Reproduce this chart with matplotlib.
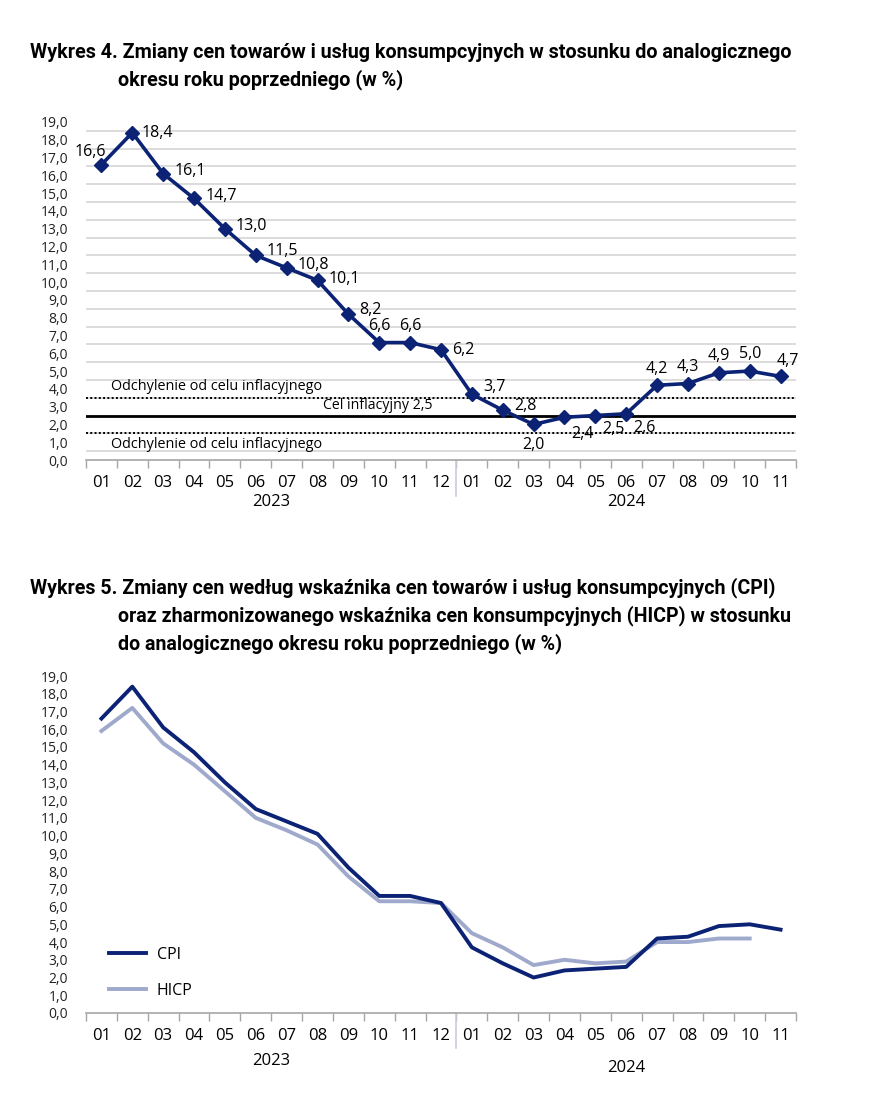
import matplotlib
matplotlib.use("Agg")
from matplotlib import pyplot as plt

months = ["01", "02", "03", "04", "05", "06", "07", "08", "09", "10", "11", "12",
          "01", "02", "03", "04", "05", "06", "07", "08", "09", "10", "11"]
years = ["2023", "2024"]
cpi = [16.6, 18.4, 16.1, 14.7, 13.0, 11.5, 10.8, 10.1, 8.2, 6.6, 6.6, 6.2,
       3.7, 2.8, 2.0, 2.4, 2.5, 2.6, 4.2, 4.3, 4.9, 5.0, 4.7]
hicp = [15.9, 17.2, 15.2, 14.0, 12.5, 11.0, 10.3, 9.5, 7.7, 6.3, 6.3, 6.2,
        4.5, 3.7, 2.7, 3.0, 2.8, 2.9, 4.0, 4.0, 4.2, 4.2]
target = 2.5
band = [1.5, 3.5]

# where each label sits relative to its point: (dx, dy) in points + alignment
label_pos = [(3, 9, "right"), (7, 0, "left"), (8, 2, "left"), (8, 2, "left"),
             (8, 2, "left"), (8, 3, "left"), (8, 2, "left"), (8, 1, "left"),
             (8, 3, "left"), (0, 12, "center"), (0, 12, "center"), (8, 0, "left"),
             (8, 5, "left"), (8, 3, "left"), (0, -15, "center"), (5, -12, "left"),
             (5, -10, "left"), (5, -10, "left"),
             (0, 12, "center"), (0, 12, "center"), (0, 12, "center"), (0, 12, "center"),
             (5, 11, "center")]

navy = "#0b2275"
light = "#9ea9cc"
grid_c = "#d9d9d9"
W, H = 884, 1099
font = ["Open Sans", "DejaVu Sans"]
title_font = ["Roboto", "DejaVu Sans"]
plt.rcParams["font.family"] = font

fig = plt.figure(figsize=(W / 100, H / 100), dpi=100)
renderer = fig.canvas.get_renderer()


def px_axes(x0, x1, ytop, ybot):
    return fig.add_axes([x0 / W, 1 - ybot / H, (x1 - x0) / W, (ybot - ytop) / H])


def title_block(lines, x_first, y_first, width):
    # first line flush left, the rest indented; size chosen so widest line fits width
    texts = []
    for k, line in enumerate(lines):
        xx = x_first if k == 0 else 118
        t = fig.text(xx / W, 1 - (y_first + 28 * k) / H, line, family=title_font,
                     weight="bold", fontsize=14, va="center")
        texts.append((t, xx))
    scale = min((width[k] - xx) / t.get_window_extent(renderer).width
                for k, (t, xx) in enumerate(texts))
    for t, _ in texts:
        t.set_fontsize(14 * scale)


def style_axis(ax, grid_step, year_y):
    n = len(months)
    ax.set_xlim(-0.5, n - 0.5)
    ax.set_ylim(0, 19)
    ax.set_yticks([i for i in range(20)])
    ax.set_yticklabels([f"{i},0" for i in range(20)], fontsize=10, color="#222222")
    ax.set_yticks([i * grid_step for i in range(int(19 / grid_step) + 1)], minor=True)
    ax.yaxis.grid(True, which="minor", color=grid_c, lw=1.3)
    ax.tick_params(axis="y", which="both", length=0, pad=13)
    ax.set_xticks([i - 0.5 for i in range(n + 1)])
    ax.set_xticklabels([])
    ax.tick_params(axis="x", which="major", length=6, color="#a6a6a6", width=1)
    ax.set_xticks(range(n), minor=True)
    ax.set_xticklabels(months, minor=True, fontsize=12)
    ax.tick_params(axis="x", which="minor", length=0, pad=11)
    for s in ["left", "right", "top"]:
        ax.spines[s].set_visible(False)
    ax.spines["bottom"].set_color("#a6a6a6")
    ax.spines["bottom"].set_linewidth(1.2)
    ax.set_axisbelow(True)
    ax.plot([11.5, 11.5], [0, -2.0], color="#c8cdd8", lw=1.2, clip_on=False)
    ax.text(5.5, year_y[0], years[0], ha="center", va="top", fontsize=12,
            transform=ax.get_xaxis_transform())
    ax.text(17, year_y[1], years[1], ha="center", va="top", fontsize=12,
            transform=ax.get_xaxis_transform())


# ---- Wykres 4 ----
title_block(["Wykres 4. Zmiany cen towarów i usług konsumpcyjnych w stosunku do analogicznego",
             "okresu roku poprzedniego (w %)"], 30, 52, [798, 9999])

ax1 = px_axes(86, 796, 122, 460)
style_axis(ax1, 0.5, (-0.1, -0.1))
ax1.axhline(band[1], color="black", lw=1.4, ls=(0, (1, 1.2)))
ax1.axhline(band[0], color="black", lw=1.4, ls=(0, (1, 1.2)))
ax1.axhline(target, color="black", lw=2)
ax1.text(0.3, band[1] + 0.22, "Odchylenie od celu inflacyjnego", fontsize=10.4, va="bottom")
ax1.text(0.3, band[0] - 0.22, "Odchylenie od celu inflacyjnego", fontsize=10.4, va="top")
ax1.text(8.95, target + 0.15, "Cel inflacyjny 2,5", fontsize=10.2, va="bottom", ha="center")
x = list(range(len(cpi)))
ax1.plot(x, cpi, color=navy, lw=2.6, marker="D", ms=7.5, zorder=5)
for i, v in enumerate(cpi):
    dx, dy, ha = label_pos[i]
    ax1.annotate(f"{v:.1f}".replace(".", ","), (i, v), xytext=(dx, dy),
                 textcoords="offset points", ha=ha, va="center", fontsize=11.5,
                 zorder=6)

# ---- Wykres 5 ----
title_block(["Wykres 5. Zmiany cen według wskaźnika cen towarów i usług konsumpcyjnych (CPI)",
             "oraz zharmonizowanego wskaźnika cen konsumpcyjnych (HICP) w stosunku",
             "do analogicznego okresu roku poprzedniego (w %)"], 30, 588, [792, 795, 9999])

ax2 = px_axes(86, 796, 676, 1013)
style_axis(ax2, 1.0, (-0.12, -0.138))
ax2.plot(range(len(cpi)), cpi, color=navy, lw=2.8, label="CPI", zorder=4)
ax2.plot(range(len(hicp)), hicp, color=light, lw=2.8, label="HICP", zorder=3)
ax2.legend(loc="lower left", bbox_to_anchor=(0.012, 0.0), frameon=False, fontsize=11.5,
           handlelength=2.3, labelspacing=1.25, handletextpad=0.7)

fig.savefig("out.png", dpi=100)
